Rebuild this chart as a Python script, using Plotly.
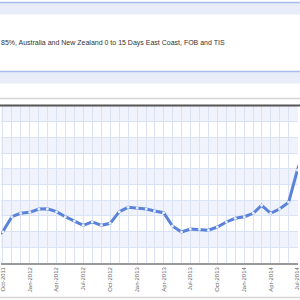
import plotly.graph_objects as go
import pandas as pd

# ---- data ----
months = pd.date_range("2011-09-01", "2014-08-01", freq="MS").strftime("%Y-%m-%d").tolist()
prices = [140, 149.8, 173.7, 179.1, 180.7, 186.0, 186.4, 181.7, 173.7, 166.9, 160.0, 165.7, 160.0,
          163.2, 181.7, 188.7, 187.6, 186.0, 182.8, 180.1, 158.9, 149.4, 154.1, 153.7,
          152.1, 157.3, 165.3, 171.2, 173.7, 179.1, 191.9, 179.1, 186.0, 196.6, 248.1, 290.0]
y_ticks = [100, 125, 150, 175, 200, 225, 250, 275, 300, 325, 350]
title_text = "85%, Australia and New Zealand 0 to 15 Days East Coast, FOB and TIS"

W, H = 300, 300
T, B = 106, 37
PH = H - T - B


def py(px):
    """pixel row -> paper y"""
    return (H - B - px) / PH


fig = go.Figure()
fig.add_trace(go.Scatter(
    x=months, y=prices, mode="lines+markers",
    line=dict(color="#5a82d8", width=3),
    marker=dict(size=3, color="#e4ebfa", line=dict(width=0)),
    hoverinfo="skip", showlegend=False,
))

shapes = []
# alternating horizontal bands
for i in range(len(y_ticks) - 1):
    if i % 2 == 1:
        shapes.append(dict(type="rect", xref="paper", yref="y", x0=0, x1=1,
                           y0=y_ticks[i], y1=y_ticks[i + 1],
                           fillcolor="#f0f3fb", line=dict(width=0), layer="below"))
# page chrome
shapes += [
    dict(type="rect", xref="paper", yref="paper", x0=-0.1, x1=1.1, y0=py(14.5), y1=py(2.5),
         fillcolor="#e9edf9", line=dict(width=0)),
    dict(type="line", xref="paper", yref="paper", x0=-0.1, x1=1.1, y0=py(2.5), y1=py(2.5),
         line=dict(color="#a9bdea", width=1.5)),
    dict(type="rect", xref="paper", yref="paper", x0=-0.1, x1=1.1, y0=py(83.5), y1=py(71.5),
         fillcolor="#e9edf9", line=dict(width=0)),
    dict(type="line", xref="paper", yref="paper", x0=-0.1, x1=1.1, y0=py(71.5), y1=py(71.5),
         line=dict(color="#a9bdea", width=1.5)),
    dict(type="line", xref="paper", yref="paper", x0=-0.1, x1=1.1, y0=py(98.5), y1=py(98.5),
         line=dict(color="#d6d6d6", width=1.5)),
    dict(type="line", xref="paper", yref="paper", x0=-0.1, x1=1.1, y0=py(105.5), y1=py(105.5),
         line=dict(color="#555555", width=2)),
    dict(type="line", xref="paper", yref="paper", x0=-0.1, x1=1.1, y0=py(297.5), y1=py(297.5),
         line=dict(color="#d6d6d6", width=1.5)),
]

fig.update_layout(
    width=W, height=H,
    margin=dict(l=0, r=0, t=T, b=B, pad=0),
    paper_bgcolor="white", plot_bgcolor="white",
    shapes=shapes,
    annotations=[dict(text=title_text, xref="paper", yref="paper", x=-2 / W, y=py(43),
                      xanchor="left", yanchor="middle", showarrow=False,
                      font=dict(family="Liberation Sans, Arial", size=7, color="#333333"))],
    xaxis=dict(
        type="date", range=["2011-09-25", "2014-07-03"],
        tick0="2011-10-01", dtick="M3", tickformat="%b-%Y", tickangle=-90,
        ticklabeloverflow="allow",
        tickfont=dict(family="Liberation Sans, Arial", size=6, color="#666666"),
        showgrid=True, gridcolor="#d9e3f5", gridwidth=1,
        minor=dict(dtick="M1", showgrid=True, gridcolor="#d9e3f5", gridwidth=1),
        showline=True, linecolor="#999999", linewidth=1.5, ticks="", zeroline=False,
    ),
    yaxis=dict(
        range=[100, 350], tickvals=y_ticks, showticklabels=False,
        showgrid=True, gridcolor="#d9e3f5", gridwidth=1, zeroline=False,
    ),
)

fig.write_html("out.html")
